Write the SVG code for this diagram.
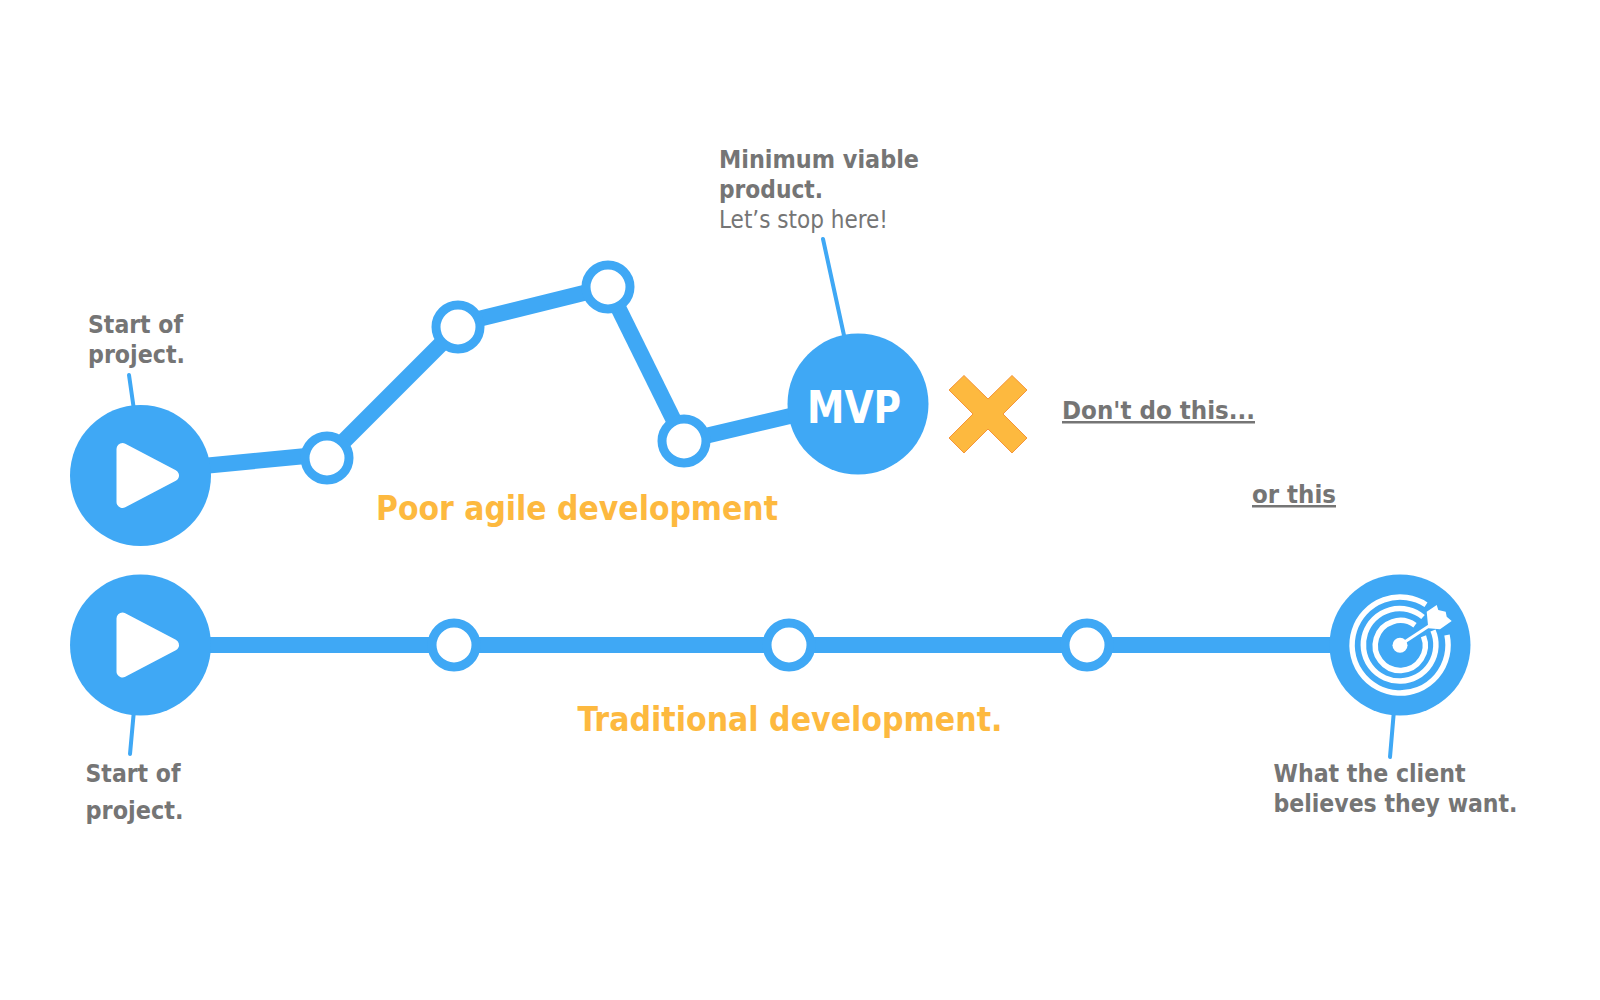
<svg xmlns="http://www.w3.org/2000/svg" width="1600" height="1000" viewBox="0 0 1600 1000">
<style>
text{font-family:"DejaVu Sans","Liberation Sans",sans-serif;font-stretch:condensed}
.g{fill:#757575;font-size:25px;font-weight:700}
.l{fill:#757575;font-size:25px;font-weight:400}
.o{fill:#fdb93f;font-size:33px;font-weight:700}
.c{fill:#3fa8f5}
.r{fill:#fff;stroke:#3fa8f5;stroke-width:9}
.t{fill:none;stroke:#3fa8f5;stroke-width:16}
.p{fill:none;stroke:#3fa8f5;stroke-width:4;stroke-linecap:round}
.w{fill:#fff;stroke:#fff;stroke-width:12;stroke-linejoin:round}
.a{fill:none;stroke:#fff;stroke-width:5.500}
</style>
<g id="connectors">
<polyline class="t" points="141,472 327,454"/>
<line class="t" x1="327" y1="458" x2="458" y2="327"/>
<line class="t" x1="458" y1="324" x2="608" y2="287"/>
<line class="t" x1="608" y1="287" x2="684" y2="441"/>
<line class="t" x1="684" y1="441" x2="858" y2="400"/>
<line class="t" x1="141" y1="645" x2="1400" y2="645"/>
<line class="p" x1="129" y1="375" x2="134" y2="410"/>
<line class="p" x1="823" y1="239" x2="845" y2="340"/>
<line class="p" x1="134" y1="710" x2="130" y2="754"/>
<line class="p" x1="1394" y1="710" x2="1390" y2="757"/>
</g>
<g id="start1"><circle class="c" cx="140.500" cy="475.500" r="70.500"/><polygon class="w" points="122.500,449 173,475.500 122.500,502"/></g>
<g id="start2"><circle class="c" cx="140.500" cy="645" r="70.500"/><polygon class="w" points="122.500,618.500 173,645 122.500,671.500"/></g>
<g id="n1"><circle class="r" cx="327" cy="458" r="22"/></g>
<g id="n2"><circle class="r" cx="458" cy="327" r="22"/></g>
<g id="n3"><circle class="r" cx="608" cy="287" r="22"/></g>
<g id="n4"><circle class="r" cx="684" cy="441" r="22"/></g>
<g id="n5"><circle class="r" cx="454" cy="645" r="22"/></g>
<g id="n6"><circle class="r" cx="789" cy="645" r="22"/></g>
<g id="n7"><circle class="r" cx="1087" cy="645" r="22"/></g>
<g id="mvp"><circle class="c" cx="858" cy="404" r="70.500"/><text x="807" y="423" textLength="94" lengthAdjust="spacingAndGlyphs" fill="#fff" font-size="44" font-weight="700">MVP</text></g>
<g id="cross"><polygon points="949,390 964,375.500 988,399 1012,375.500 1027,390 1003,414 1027,438 1012,453 988,429 964,453 949,438 973,414" fill="#fdb93f" stroke="#f5953a" stroke-width="1"/></g>
<g id="target"><circle class="c" cx="1400" cy="645" r="70.500"/>
<path class="a" d="M1426,604.700A48,48 0 1 0 1447,635"/>
<path class="a" d="M1423,617A36.300,36.300 0 1 0 1433,630.500"/>
<path class="a" d="M1415,625.300A25,25 0 1 0 1423.500,636.300"/>
<circle cx="1400" cy="645.300" r="7.500" fill="#fff"/>
<line x1="1400" y1="645" x2="1432" y2="624" stroke="#fff" stroke-width="3"/>
<polygon points="1426.700,611.700 1436.700,605 1438.300,610 1445.700,611.700 1446.700,616.700 1451.700,621 1440,629.300 1428.300,628.300" fill="#fff"/>
</g>
<g id="label-start1"><text class="g" x="88" y="333" textLength="95" lengthAdjust="spacingAndGlyphs">Start of</text><text class="g" x="88" y="363" textLength="97" lengthAdjust="spacingAndGlyphs">project.</text></g>
<g id="label-mvp"><text class="g" x="719" y="168" textLength="200" lengthAdjust="spacingAndGlyphs">Minimum viable</text><text class="g" x="719" y="198" textLength="104" lengthAdjust="spacingAndGlyphs">product.</text><text class="l" x="719" y="228" textLength="169" lengthAdjust="spacingAndGlyphs">Let’s stop here!</text></g>
<g id="label-start2"><text class="g" x="85.500" y="782" textLength="95" lengthAdjust="spacingAndGlyphs">Start of</text><text class="g" x="85.500" y="819" textLength="98" lengthAdjust="spacingAndGlyphs">project.</text></g>
<g id="label-client"><text class="g" x="1273.500" y="782" textLength="192" lengthAdjust="spacingAndGlyphs">What the client</text><text class="g" x="1273.500" y="812" textLength="244" lengthAdjust="spacingAndGlyphs">believes they want.</text></g>
<text class="g" x="1062" y="419" text-decoration="underline" textLength="193" lengthAdjust="spacingAndGlyphs">Don't do this...</text>
<text class="g" x="1252" y="503" text-decoration="underline" textLength="84" lengthAdjust="spacingAndGlyphs">or this</text>
<text class="o" x="376" y="520" textLength="402" lengthAdjust="spacingAndGlyphs">Poor agile development</text>
<text class="o" x="577.500" y="731" textLength="425" lengthAdjust="spacingAndGlyphs">Traditional development.</text>
</svg>
